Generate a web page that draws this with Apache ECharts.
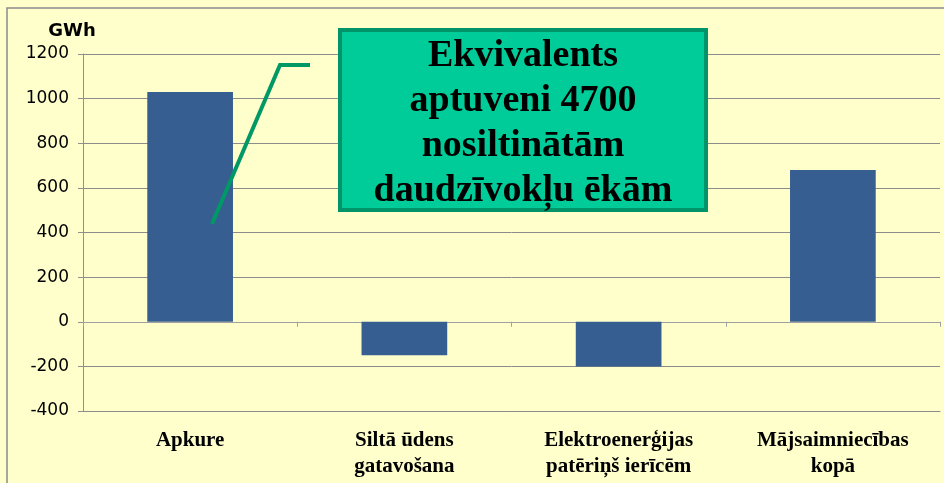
<!DOCTYPE html>
<html lang="lv">
<head>
    <meta charset="UTF-8">
    <title>GWh</title>
    <script src="https://cdn.jsdelivr.net/npm/echarts/dist/echarts.min.js"></script>
    <style>
        html, body { margin: 0; padding: 0; background: #ffffcc; }
    </style>
</head>
<body>
<div id="main" style="width: 944px;height:483px;"></div>
<script type="text/javascript">
    // kategorijas un vērtības (GWh)
    var categories = ['Apkure', 'Siltā ūdens\ngatavošana', 'Elektroenerģijas\npatēriņš ierīcēm', 'Mājsaimniecības\nkopā'];
    var values = [1030, -150, -200, 680];
    var yTicks = { min: -400, max: 1200, step: 200 };
    var noteText = 'Ekvivalents\naptuveni 4700\nnosiltinātām\ndaudzīvokļu ēkām';

    var chart = echarts.init(document.getElementById('main'));

    chart.setOption({
        backgroundColor: '#ffffcc',
        animation: false,
        grid: { left: 83, right: 4, top: 54, bottom: 72, outerBoundsMode: 'none' },
        xAxis: [
            {
                // etiķetes zem grafika apakšas
                type: 'category',
                data: categories,
                position: 'bottom',
                axisLine: { onZero: false, lineStyle: { color: '#8c8c8c' } },
                axisTick: { show: false },
                axisLabel: {
                    interval: 0,
                    margin: 17,
                    color: '#000',
                    fontFamily: 'Liberation Serif',
                    fontWeight: 'bold',
                    fontSize: 21,
                    lineHeight: 26
                }
            },
            {
                // nulles līnija ar iedaļām
                type: 'category',
                data: categories,
                position: 'bottom',
                axisLine: { onZero: true, lineStyle: { color: '#a0a0a0' } },
                axisTick: { show: true, length: 5, lineStyle: { color: '#a0a0a0' } },
                axisLabel: { show: false }
            }
        ],
        yAxis: {
            type: 'value',
            min: yTicks.min,
            max: yTicks.max,
            interval: yTicks.step,
            name: 'GWh',
            nameLocation: 'end',
            nameGap: 14,
            nameTextStyle: {
                color: '#000', fontFamily: 'DejaVu Sans', fontWeight: 'bold', fontSize: 18,
                align: 'center', padding: [0, 0, 0, -22]
            },
            axisLine: { show: true, lineStyle: { color: '#909090' } },
            axisTick: { show: true, length: 5, lineStyle: { color: '#909090' } },
            axisLabel: {
                color: '#000', fontFamily: 'DejaVu Sans', fontSize: 17, margin: 14,
                formatter: function (v) { return String(v); }
            },
            splitLine: { show: true, lineStyle: { color: '#8c8c8c', width: 1 } }
        },
        series: [{
            type: 'bar',
            data: values,
            barWidth: '40%',
            itemStyle: { color: '#375e91' }
        }],
        graphic: [
            {
                type: 'rect',
                shape: { x: 7, y: 8, width: 960, height: 500 },
                style: { fill: 'none', stroke: '#8a8a8a', lineWidth: 1.5 },
                z: 100
            },
            {
                type: 'polyline',
                shape: { points: [[212, 224], [280, 65], [310, 65]] },
                style: { fill: 'none', stroke: '#009966', lineWidth: 4 },
                z: 100
            },
            {
                type: 'rect',
                shape: { x: 340, y: 30, width: 366, height: 180 },
                style: { fill: '#00cc99', stroke: '#009468', lineWidth: 4 },
                z: 100
            },
            {
                type: 'text',
                x: 523,
                y: 124,
                style: {
                    text: noteText,
                    align: 'center',
                    verticalAlign: 'middle',
                    fill: '#000',
                    font: 'bold 38px "Liberation Serif"',
                    lineHeight: 45
                },
                z: 101
            }
        ]
    });
</script>
</body>
</html>
